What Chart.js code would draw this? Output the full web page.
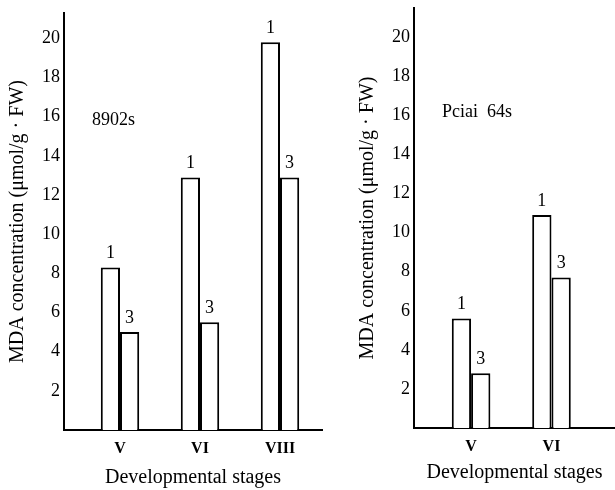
<!DOCTYPE html>
<html>
<head>
<meta charset="utf-8">
<script src="https://cdn.jsdelivr.net/npm/chart.js@4/dist/chart.umd.min.js"></script>
<style>
body{margin:0;background:#fff;width:615px;height:490px;overflow:hidden;position:relative}
.panel{position:absolute;top:0;height:490px}
#left{left:0;width:325px}
#right{left:350px;width:265px}
</style>
</head>
<body>
<div class="panel" id="left"><canvas id="c1"></canvas></div>
<div class="panel" id="right"><canvas id="c2"></canvas></div>
<script>
// MDA concentration (umol/g FW)
const seriesNames = ["1", "3"]

const stagesA = ["V", "VI", "VIII"]
const s8902_1 = [8.3, 12.9, 19.8]
const s8902_3 = [5.0, 5.5, 12.9]

const stagesB = ["V", "VI"]
const pciai_1 = [5.6, 10.9]
const pciai_3 = [2.8, 7.7]

const yTicks = [2, 4, 6, 8, 10, 12, 14, 16, 18, 20]

const FONT = '"Liberation Serif", "DejaVu Serif", serif'

const barTags = {
  id: "barTags",
  afterDatasetsDraw(chart, args, opts) {
    const c = chart.ctx
    c.save()
    c.fillStyle = "#000"
    c.font = "18px " + FONT
    c.textAlign = "center"
    c.textBaseline = "bottom"
    chart.data.datasets.forEach((ds, i) => {
      chart.getDatasetMeta(i).data.forEach(bar => {
        c.fillText(ds.label, bar.x, bar.y - 5)
      })
    })
    c.textAlign = "left"
    c.textBaseline = "alphabetic"
    c.font = "18px " + FONT
    c.fillText(opts.name, chart.chartArea.left + 28, chart.chartArea.top + opts.nameY)
    c.restore()
  }
}

function makeChart(id, stages, v1, v3, o) {
  return new Chart(document.getElementById(id), {
    type: "bar",
    data: {
      datasets: [v1, v3].map((vals, k) => ({
        label: seriesNames[k],
        data: vals.map((y, i) => ({x: i + 1, y: y})),
        backgroundColor: "#fff",
        borderColor: "#000",
        borderWidth: 2,
        barPercentage: 1,
        categoryPercentage: 0.48
      }))
    },
    options: {
      responsive: true,
      maintainAspectRatio: false,
      animation: false,
      layout: {padding: {top: o.top, right: o.right, left: 0, bottom: 0}},
      plugins: {
        legend: {display: false},
        tooltip: {enabled: false},
        barTags: {name: o.name, nameY: o.nameY}
      },
      scales: {
        x: {
          type: "linear",
          offset: false,
          min: o.xmin,
          max: o.xmax,
          afterBuildTicks: s => { s.ticks = stages.map((_, i) => ({value: i + 1})) },
          afterFit: s => { s.height = o.xh },
          grid: {display: false},
          border: {display: true, color: "#000", width: 2},
          ticks: {
            color: "#000",
            padding: 1,
            font: {family: FONT, size: 16, weight: "bold"},
            callback: v => stages[v - 1] || ""
          },
          title: {
            display: true,
            text: "Developmental stages",
            color: "#000",
            font: {family: FONT, size: 20},
            padding: {top: 0, bottom: o.titleB}
          }
        },
        y: {
          min: 0,
          max: o.ymax,
          afterBuildTicks: s => { s.ticks = yTicks.map(v => ({value: v})) },
          afterFit: s => { s.width = 64 },
          grid: {display: false},
          border: {display: true, color: "#000", width: 2},
          ticks: {
            color: "#000",
            padding: -4,
            font: {family: FONT, size: 18}
          },
          title: {
            display: true,
            text: "MDA concentration (\u03bcmol/g \u00b7 FW)",
            color: "#000",
            font: {family: FONT, size: 20},
            padding: {top: 6, bottom: 0}
          }
        }
      }
    },
    plugins: [barTags]
  })
}

makeChart("c1", stagesA, s8902_1, s8902_3,
  {top: 13, right: 3, xmin: 0.3, xmax: 3.525, xh: 60, ymax: 21.3, titleB: 0, name: "8902s", nameY: 112})
makeChart("c2", stagesB, pciai_1, pciai_3,
  {top: 8, right: 0, xmin: 0.29, xmax: 2.79, xh: 62, ymax: 21.5, titleB: 5, name: "Pciai  64s", nameY: 109})
</script>
</body>
</html>
